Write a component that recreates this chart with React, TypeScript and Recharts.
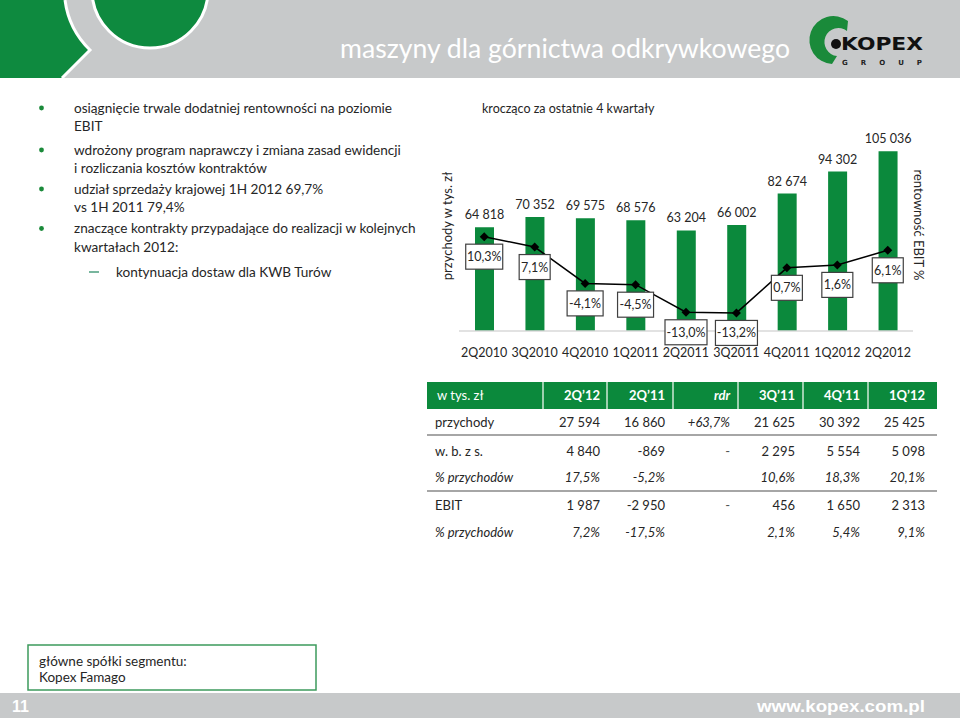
import React from 'react';
import { ComposedChart, Bar, Line, XAxis, YAxis, LabelList } from 'recharts';

const quarters = ['2Q2010', '3Q2010', '4Q2010', '1Q2011', '2Q2011', '3Q2011', '4Q2011', '1Q2012', '2Q2012'];
const revenue = [64818, 70352, 69575, 68576, 63204, 66002, 82674, 94302, 105036];
const ebitMargin = [10.3, 7.1, -4.1, -4.5, -13.0, -13.2, 0.7, 1.6, 6.1];

const tableCorner = 'w tys. zł';
const tableColumns = ['2Q’12', '2Q’11', 'rdr', '3Q’11', '4Q’11', '1Q’12'];
const tableRowLabels = ['przychody', 'w. b. z s.', '% przychodów', 'EBIT', '% przychodów'];
const rowPrzychody = ['27 594', '16 860', '+63,7%', '21 625', '30 392', '25 425'];
const rowWbzs = ['4 840', '-869', '-', '2 295', '5 554', '5 098'];
const rowWbzsPct = ['17,5%', '-5,2%', '', '10,6%', '18,3%', '20,1%'];
const rowEbit = ['1 987', '-2 950', '-', '456', '1 650', '2 313'];
const rowEbitPct = ['7,2%', '-17,5%', '', '2,1%', '5,4%', '9,1%'];

const bullets = [
  ['osiągnięcie trwale dodatniej rentowności na poziomie', 'EBIT'],
  ['wdrożony program naprawczy i zmiana zasad ewidencji', 'i rozliczania kosztów kontraktów'],
  ['udział sprzedaży krajowej 1H 2012 69,7%', 'vs 1H 2011 79,4%'],
  ['znaczące kontrakty przypadające do realizacji w kolejnych', 'kwartałach 2012:'],
];
const subBullet = 'kontynuacja dostaw dla KWB Turów';

const FONT = "Lato, 'Open Sans', sans-serif";
const GREEN = '#0b893c';
const TEXT = '#262626';

const fmtK = (v: number) => String(v).replace(/\B(?=(\d{3})+(?!\d))/g, ' ');
const fmtPct = (v: number) => v.toFixed(1).replace('.', ',') + '%';

const chartData = quarters.map((q, i) => ({ q, rev: revenue[i], m: ebitMargin[i] }));

const MarginLabel = (props: any) => {
  const { x, y, value } = props;
  if (value === undefined || value === null) return null;
  const t = fmtPct(Number(value));
  const digits = t.replace(/[^0-9]/g, '').length;
  const w = 19 + 6 * digits + (Number(value) < 0 ? 5 : 0);
  const cy = y + 20;
  return (
    <g>
      <rect x={x - w / 2} y={cy - 12.5} width={w} height={25} fill="#fff" stroke="#404040" strokeWidth={1.2} />
      <text x={x} y={cy} dy="0.36em" textAnchor="middle" fontSize={12.5} fill={TEXT} fontFamily={FONT}>{t}</text>
    </g>
  );
};

const BarValueLabel = (props: any) => {
  const { x, y, width, value } = props;
  if (value === undefined || value === null) return null;
  return (
    <text x={x + width / 2} y={y - 8} textAnchor="middle" fontSize={12.5} fill={TEXT} fontFamily={FONT}>{fmtK(Number(value))}</text>
  );
};

const Diamond = (p: any) => {
  const { cx, cy, index } = p;
  if (cx == null || cy == null) return <g key={index} />;
  return <path key={index} d={`M${cx},${cy - 4.5} L${cx + 4.5},${cy} L${cx},${cy + 4.5} L${cx - 4.5},${cy} Z`} fill="#000" />;
};

const colRight = [600, 665, 730, 795, 860, 925];
const colDiv = [543, 607, 673, 738, 803, 868];
const rowY = [427, 455.5, 482, 509.5, 536.5];
const rows = [rowPrzychody, rowWbzs, rowWbzsPct, rowEbit, rowEbitPct];

export default function App() {
  const bulletLineY = [112.5, 131, 154.5, 173, 193.5, 212, 233, 251.5];
  return (
    <div style={{ position: 'absolute', left: 0, top: 0, width: 960, height: 718, background: '#fff', overflow: 'hidden', fontFamily: FONT }}>
      <svg width={960} height={718} style={{ position: 'absolute', left: 0, top: 0 }} fontFamily={FONT}>
        {/* header */}
        <rect x={0} y={0} width={960} height={78} fill="#c7c9ca" />
        <path d="M0,0 L65,0 A85,85 0 0,0 90,50 L62,78 L0,78 Z" fill="#0e8a3f" />
        <path d="M65,0 A85,85 0 0,0 90,50 L62,78" fill="none" stroke="#fff" strokeWidth={3} />
        <circle cx={150} cy={-10} r={58} fill="#0e8a3f" stroke="#fff" strokeWidth={3} />
        <text x={565} y={58} textAnchor="middle" fontSize={27} fill="#fff" textLength={450} lengthAdjust="spacingAndGlyphs">maszyny dla górnictwa odkrywkowego</text>
        {/* logo */}
        <path d="M848,21 A24,24 0 1,0 832,64 L837,56 A14,14 0 1,1 847,31 Z" fill="#1a8a3a" />
        <circle cx={836} cy={44} r={5} fill="#111" />
        <text x={841} y={50} fontSize={18} fontWeight="bold" fill="#111" fontFamily="'DejaVu Sans', sans-serif" textLength={82} lengthAdjust="spacingAndGlyphs">KOPEX</text>
        <text x={842} y={65} fontSize={7} fontWeight="bold" fill="#222" fontFamily="'DejaVu Sans', sans-serif" textLength={80} lengthAdjust="spacing">GROUP</text>

        {/* bullets */}
        {bullets.map((b, i) => (
          <g key={i}>
            <circle cx={41.5} cy={bulletLineY[i * 2] - 4.5} r={2.4} fill="#1a8a3a" />
            <text x={74} y={bulletLineY[i * 2]} fontSize={13.6} fill={TEXT}>{b[0]}</text>
            <text x={74} y={bulletLineY[i * 2 + 1]} fontSize={13.6} fill={TEXT}>{b[1]}</text>
          </g>
        ))}
        <line x1={89} y1={272} x2={99} y2={272} stroke="#2f8f6a" strokeWidth={1.3} />
        <text x={116} y={276.5} fontSize={13.6} fill={TEXT}>{subBullet}</text>

        {/* chart texts */}
        <text x={482} y={112.5} fontSize={12.5} fill={TEXT}>krocząco za ostatnie 4 kwartały</text>
        <text x={0} y={0} transform="translate(452,226) rotate(-90)" textAnchor="middle" fontSize={13} fill={TEXT}>przychody w tys. zł</text>
        <text x={0} y={0} transform="translate(914,225) rotate(90)" textAnchor="middle" fontSize={13} fill={TEXT}>rentowność EBIT %</text>

        {/* table */}
        <rect x={427} y={382} width={510} height={27} fill={GREEN} />
        {colDiv.map((x, i) => (
          <line key={i} x1={x} y1={382} x2={x} y2={409} stroke="#cfe8d6" strokeWidth={1.5} />
        ))}
        <text x={437} y={400} fontSize={13} fill="#fff">{tableCorner}</text>
        {tableColumns.map((c, i) => (
          <text key={i} x={colRight[i]} y={400} textAnchor="end" fontSize={13} fontWeight="bold" fontStyle={c === 'rdr' ? 'italic' : 'normal'} fill="#fff">{c}</text>
        ))}
        <line x1={427} y1={435} x2={937} y2={435} stroke="#a6a6a6" strokeWidth={2} />
        <line x1={427} y1={491} x2={937} y2={491} stroke="#a6a6a6" strokeWidth={2} />
        {tableRowLabels.map((l, r) => {
          const italicRow = r === 2 || r === 4;
          return (
            <g key={r}>
              <text x={435} y={rowY[r]} fontSize={13} fill={TEXT} fontStyle={italicRow ? 'italic' : 'normal'}>{l}</text>
              {rows[r].map((v, c) => (
                <text key={c} x={colRight[c]} y={rowY[r]} textAnchor="end" fontSize={13} fill={c === 2 && v === '-' ? '#555' : TEXT}
                  fontStyle={italicRow || (r === 0 && c === 2) ? 'italic' : 'normal'}>{v}</text>
              ))}
            </g>
          );
        })}

        {/* bottom box */}
        <rect x={28} y={645} width={288} height={45} fill="#fff" stroke="#3d9a5c" strokeWidth={1.5} />
        <text x={39} y={666} fontSize={13.5} fill={TEXT}>główne spółki segmentu:</text>
        <text x={39} y={681.5} fontSize={13.5} fill={TEXT}>Kopex Famago</text>

        {/* footer */}
        <rect x={0} y={693} width={960} height={25} fill="#c7c9ca" />
        <text x={12} y={712} fontSize={16} fontWeight="bold" fill="#fff" fontFamily="'Liberation Sans', Arial, sans-serif">11</text>
        <text x={925} y={712} textAnchor="end" fontSize={17} fontWeight="bold" fill="#fff" fontFamily="'Liberation Sans', Arial, sans-serif" textLength={168} lengthAdjust="spacingAndGlyphs">www.kopex.com.pl</text>
      </svg>

      <div style={{ position: 'absolute', left: 430, top: 90 }}>
        <ComposedChart width={530} height={280} data={chartData} margin={{ top: 33, right: 47, left: 29, bottom: 0 }}>
          <XAxis dataKey="q" height={39} axisLine={{ stroke: '#d9d9d9', strokeWidth: 1.5 }} tickLine={false} interval={0} tickMargin={11}
            tick={{ fontSize: 12.5, fill: TEXT, fontFamily: FONT }} />
          <YAxis yAxisId="l" hide domain={[10000, 120000]} />
          <YAxis yAxisId="r" hide orientation="right" domain={[-18.77, 45.33]} />
          <Bar yAxisId="l" dataKey="rev" fill={GREEN} barSize={19} isAnimationActive={false}>
            <LabelList dataKey="rev" content={BarValueLabel} />
          </Bar>
          <Line yAxisId="r" dataKey="m" stroke="#000" strokeWidth={1.5} dot={Diamond} activeDot={false} isAnimationActive={false}>
            <LabelList dataKey="m" content={MarginLabel} />
          </Line>
        </ComposedChart>
      </div>
    </div>
  );
}
